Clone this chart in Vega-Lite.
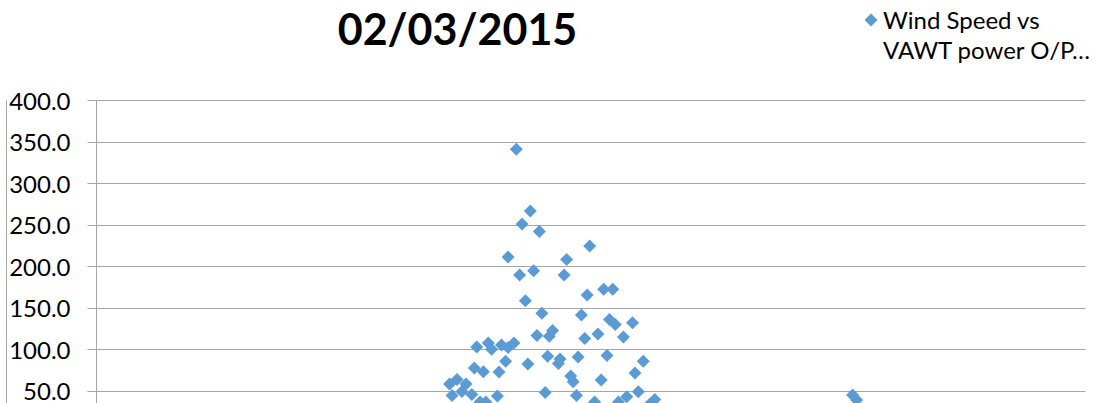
{
  "$schema": "https://vega.github.io/schema/vega-lite/v6.json",
  "width": 989,
  "height": 332,
  "autosize": "none",
  "padding": {"left": 96, "top": 100, "right": 12, "bottom": -29},
  "background": "white",
  "config": {"view": {"stroke": null}, "style": {"guide-label": {"dy": -10, "lineHeight": 30}}},
  "title": {"text": "02/03/2015", "font": "Lato", "fontSize": 43, "fontWeight": "bold", "color": "#000000", "anchor": "middle", "frame": "group", "dx": -133, "offset": 0, "dy": 80, "baseline": "alphabetic"},
  "data": {"values": [
    {"wind": 5.10, "power": 340.6, "series": "Wind Speed vs VAWT power O/P"},
    {"wind": 5.27, "power": 266.3, "series": "Wind Speed vs VAWT power O/P"},
    {"wind": 5.17, "power": 250.6, "series": "Wind Speed vs VAWT power O/P"},
    {"wind": 5.38, "power": 241.6, "series": "Wind Speed vs VAWT power O/P"},
    {"wind": 5.00, "power": 210.8, "series": "Wind Speed vs VAWT power O/P"},
    {"wind": 5.99, "power": 224.1, "series": "Wind Speed vs VAWT power O/P"},
    {"wind": 5.71, "power": 207.8, "series": "Wind Speed vs VAWT power O/P"},
    {"wind": 5.31, "power": 194.3, "series": "Wind Speed vs VAWT power O/P"},
    {"wind": 5.14, "power": 189.2, "series": "Wind Speed vs VAWT power O/P"},
    {"wind": 5.68, "power": 189.2, "series": "Wind Speed vs VAWT power O/P"},
    {"wind": 6.16, "power": 171.9, "series": "Wind Speed vs VAWT power O/P"},
    {"wind": 6.27, "power": 171.9, "series": "Wind Speed vs VAWT power O/P"},
    {"wind": 5.96, "power": 165.1, "series": "Wind Speed vs VAWT power O/P"},
    {"wind": 5.21, "power": 158.2, "series": "Wind Speed vs VAWT power O/P"},
    {"wind": 5.41, "power": 143.0, "series": "Wind Speed vs VAWT power O/P"},
    {"wind": 5.89, "power": 141.0, "series": "Wind Speed vs VAWT power O/P"},
    {"wind": 6.23, "power": 135.5, "series": "Wind Speed vs VAWT power O/P"},
    {"wind": 6.30, "power": 129.5, "series": "Wind Speed vs VAWT power O/P"},
    {"wind": 6.51, "power": 131.7, "series": "Wind Speed vs VAWT power O/P"},
    {"wind": 5.54, "power": 122.3, "series": "Wind Speed vs VAWT power O/P"},
    {"wind": 5.35, "power": 116.3, "series": "Wind Speed vs VAWT power O/P"},
    {"wind": 5.50, "power": 115.3, "series": "Wind Speed vs VAWT power O/P"},
    {"wind": 6.09, "power": 118.1, "series": "Wind Speed vs VAWT power O/P"},
    {"wind": 6.40, "power": 114.5, "series": "Wind Speed vs VAWT power O/P"},
    {"wind": 5.93, "power": 112.7, "series": "Wind Speed vs VAWT power O/P"},
    {"wind": 4.62, "power": 102.4, "series": "Wind Speed vs VAWT power O/P"},
    {"wind": 4.76, "power": 107.2, "series": "Wind Speed vs VAWT power O/P"},
    {"wind": 4.80, "power": 99.6, "series": "Wind Speed vs VAWT power O/P"},
    {"wind": 4.92, "power": 104.8, "series": "Wind Speed vs VAWT power O/P"},
    {"wind": 5.07, "power": 107.2, "series": "Wind Speed vs VAWT power O/P"},
    {"wind": 5.00, "power": 101.8, "series": "Wind Speed vs VAWT power O/P"},
    {"wind": 6.20, "power": 92.2, "series": "Wind Speed vs VAWT power O/P"},
    {"wind": 5.48, "power": 91.2, "series": "Wind Speed vs VAWT power O/P"},
    {"wind": 6.64, "power": 85.2, "series": "Wind Speed vs VAWT power O/P"},
    {"wind": 5.63, "power": 88.0, "series": "Wind Speed vs VAWT power O/P"},
    {"wind": 5.61, "power": 82.5, "series": "Wind Speed vs VAWT power O/P"},
    {"wind": 5.85, "power": 90.4, "series": "Wind Speed vs VAWT power O/P"},
    {"wind": 4.89, "power": 72.3, "series": "Wind Speed vs VAWT power O/P"},
    {"wind": 5.24, "power": 81.9, "series": "Wind Speed vs VAWT power O/P"},
    {"wind": 4.59, "power": 77.1, "series": "Wind Speed vs VAWT power O/P"},
    {"wind": 4.70, "power": 72.7, "series": "Wind Speed vs VAWT power O/P"},
    {"wind": 4.97, "power": 85.2, "series": "Wind Speed vs VAWT power O/P"},
    {"wind": 5.76, "power": 67.5, "series": "Wind Speed vs VAWT power O/P"},
    {"wind": 5.79, "power": 60.6, "series": "Wind Speed vs VAWT power O/P"},
    {"wind": 6.13, "power": 62.7, "series": "Wind Speed vs VAWT power O/P"},
    {"wind": 6.54, "power": 71.1, "series": "Wind Speed vs VAWT power O/P"},
    {"wind": 4.29, "power": 57.8, "series": "Wind Speed vs VAWT power O/P"},
    {"wind": 4.38, "power": 63.3, "series": "Wind Speed vs VAWT power O/P"},
    {"wind": 4.49, "power": 57.8, "series": "Wind Speed vs VAWT power O/P"},
    {"wind": 4.44, "power": 48.8, "series": "Wind Speed vs VAWT power O/P"},
    {"wind": 4.32, "power": 44.0, "series": "Wind Speed vs VAWT power O/P"},
    {"wind": 4.56, "power": 45.2, "series": "Wind Speed vs VAWT power O/P"},
    {"wind": 4.87, "power": 43.4, "series": "Wind Speed vs VAWT power O/P"},
    {"wind": 5.45, "power": 47.6, "series": "Wind Speed vs VAWT power O/P"},
    {"wind": 5.83, "power": 44.0, "series": "Wind Speed vs VAWT power O/P"},
    {"wind": 6.58, "power": 48.6, "series": "Wind Speed vs VAWT power O/P"},
    {"wind": 6.44, "power": 42.5, "series": "Wind Speed vs VAWT power O/P"},
    {"wind": 4.66, "power": 36.1, "series": "Wind Speed vs VAWT power O/P"},
    {"wind": 4.73, "power": 36.1, "series": "Wind Speed vs VAWT power O/P"},
    {"wind": 6.05, "power": 36.1, "series": "Wind Speed vs VAWT power O/P"},
    {"wind": 6.34, "power": 36.1, "series": "Wind Speed vs VAWT power O/P"},
    {"wind": 6.78, "power": 39.2, "series": "Wind Speed vs VAWT power O/P"},
    {"wind": 6.72, "power": 33.7, "series": "Wind Speed vs VAWT power O/P"},
    {"wind": 9.18, "power": 44.6, "series": "Wind Speed vs VAWT power O/P"},
    {"wind": 9.23, "power": 38.6, "series": "Wind Speed vs VAWT power O/P"}
  ]},
  "layer": [
    {
      "mark": {"type": "point", "shape": "diamond", "filled": true, "size": 169, "opacity": 1},
      "encoding": {
        "x": {"field": "wind", "type": "quantitative", "scale": {"domain": [0, 12], "nice": false}, "axis": {"title": "Wind Speed (m/s)", "grid": false, "domainColor": "#A6A6A6", "tickColor": "#A6A6A6", "labelFont": "Lato", "labelFontSize": 24, "labelColor": "#000000"}},
        "y": {"field": "power", "type": "quantitative", "scale": {"domain": [0, 400], "nice": false}, "axis": {"title": null, "format": ".1f", "values": [0, 50, 100, 150, 200, 250, 300, 350, 400], "grid": true, "gridColor": "#A6A6A6", "gridWidth": 1, "domainColor": "#A6A6A6", "tickColor": "#A6A6A6", "tickSize": 9, "labelPadding": 17, "labelBaseline": "top", "labelFont": "Lato", "labelFontSize": 24, "labelColor": "#000000"}},
        "color": {"field": "series", "type": "nominal", "scale": {"range": ["#5B9BD5"]}, "legend": {"orient": "none", "legendX": 763, "legendY": -92, "title": null, "padding": 0, "symbolType": "diamond", "symbolSize": 169, "symbolStrokeWidth": 0, "labelFont": "Lato", "labelFontSize": 24, "labelColor": "#000000", "labelLimit": 400, "labelOffset": 0, "labelBaseline": "top", "labelExpr": "['Wind Speed vs', 'VAWT power O/P\u2026']"}}
      }
    },
    {
      "mark": {"type": "point", "opacity": 0},
      "encoding": {
        "x": {"field": "wind", "type": "quantitative"},
        "y": {"field": "power", "type": "quantitative", "axis": {"orient": "left", "offset": 90, "title": null, "labels": false, "ticks": false, "grid": false, "domainColor": "#A6A6A6"}}
      }
    }
  ],
  "resolve": {"axis": {"y": "independent"}}
}
